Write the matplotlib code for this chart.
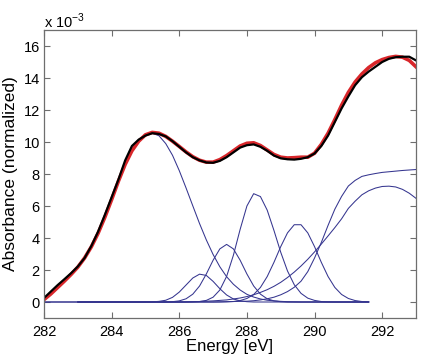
import matplotlib
matplotlib.use("Agg")
import matplotlib.pyplot as plt
import numpy as np

# -----------------------------
# 1. Data (absorbance in units of 1e-3)
# -----------------------------
energy = [282.0, 282.2, 282.4, 282.6, 282.8, 283.0, 283.2, 283.4, 283.6, 283.8,
          284.0, 284.2, 284.4, 284.6, 284.8, 285.0, 285.2, 285.4, 285.6, 285.8,
          286.0, 286.2, 286.4, 286.6, 286.8, 287.0, 287.2, 287.4, 287.6, 287.8,
          288.0, 288.2, 288.4, 288.6, 288.8, 289.0, 289.2, 289.4, 289.6, 289.8,
          290.0, 290.2, 290.4, 290.6, 290.8, 291.0, 291.2, 291.4, 291.6, 291.8,
          292.0, 292.2, 292.4, 292.6, 292.8, 293.0]

measured = [0.25, 0.65, 1.05, 1.42, 1.80, 2.22, 2.75, 3.50, 4.40, 5.45,
            6.55, 7.65, 8.85, 9.75, 10.15, 10.40, 10.55, 10.50, 10.35, 10.05,
            9.70, 9.35, 9.05, 8.85, 8.72, 8.70, 8.82, 9.05, 9.35, 9.65,
            9.80, 9.85, 9.70, 9.45, 9.15, 8.98, 8.92, 8.90, 8.95, 9.05,
            9.28, 9.75, 10.40, 11.25, 12.10, 12.85, 13.55, 14.05, 14.40, 14.70,
            15.00, 15.20, 15.30, 15.33, 15.33, 15.10]

fit = [0.15, 0.50, 0.90, 1.30, 1.72, 2.18, 2.75, 3.45, 4.30, 5.30,
       6.40, 7.55, 8.60, 9.45, 10.05, 10.45, 10.60, 10.55, 10.35, 10.05,
       9.72, 9.38, 9.08, 8.86, 8.74, 8.74, 8.90, 9.15, 9.45, 9.75,
       9.92, 9.95, 9.78, 9.50, 9.22, 9.05, 9.00, 9.02, 9.05, 9.05,
       9.30, 9.85, 10.55, 11.40, 12.30, 13.10, 13.75, 14.25, 14.65, 14.95,
       15.15, 15.28, 15.35, 15.30, 15.10, 14.70]

# peaks are drawn over 283.0 - 291.6 eV
peak_energy = energy[5:49]

peak_285 = [2.15, 2.72, 3.42, 4.27, 5.27, 6.37, 7.52, 8.57, 9.42, 10.02,
            10.42, 10.55, 10.39, 9.90, 9.17, 8.21, 7.13, 6.01, 4.90, 3.88,
            2.97, 2.20, 1.58, 1.11, 0.75, 0.48, 0.31, 0.19, 0.11, 0.07,
            0.04, 0.02, 0.01, 0, 0, 0, 0, 0, 0, 0,
            0, 0, 0, 0]

peak_2867 = [0, 0, 0, 0, 0, 0, 0, 0, 0, 0,
             0, 0.01, 0.04, 0.11, 0.29, 0.62, 1.06, 1.50, 1.74, 1.66,
             1.29, 0.83, 0.44, 0.19, 0.07, 0.02, 0, 0, 0, 0,
             0, 0, 0, 0, 0, 0, 0, 0, 0, 0,
             0, 0, 0, 0]

peak_2874 = [0, 0, 0, 0, 0, 0, 0, 0, 0, 0,
             0, 0, 0, 0, 0.02, 0.07, 0.20, 0.49, 1.00, 1.75,
             2.61, 3.32, 3.60, 3.32, 2.61, 1.75, 1.00, 0.49, 0.20, 0.07,
             0.02, 0, 0, 0, 0, 0, 0, 0, 0, 0,
             0, 0, 0, 0]

peak_2883 = [0, 0, 0, 0, 0, 0, 0, 0, 0, 0,
             0, 0, 0, 0, 0, 0, 0, 0.01, 0.03, 0.10,
             0.30, 0.75, 1.60, 2.92, 4.54, 6.00, 6.77, 6.59, 5.74, 4.47,
             3.11, 1.94, 1.08, 0.54, 0.24, 0.10, 0.03, 0.01, 0, 0,
             0, 0, 0, 0]

peak_2895 = [0, 0, 0, 0, 0, 0, 0, 0, 0, 0,
             0, 0, 0, 0, 0, 0, 0, 0, 0, 0,
             0, 0, 0.01, 0.03, 0.09, 0.22, 0.47, 0.91, 1.59, 2.48,
             3.46, 4.32, 4.83, 4.83, 4.32, 3.46, 2.48, 1.59, 0.91, 0.47,
             0.22, 0.09, 0.03, 0.01]

# step edge and broad sigma* peak span the whole range
step_edge = [0, 0, 0, 0, 0, 0, 0, 0, 0, 0,
             0, 0, 0, 0, 0, 0, 0, 0, 0, 0,
             0, 0, 0, 0, 0, 0, 0.01, 0.02, 0.03, 0.04,
             0.05, 0.08, 0.13, 0.20, 0.30, 0.45, 0.65, 0.92, 1.30, 1.90,
             2.75, 3.72, 4.79, 5.80, 6.60, 7.25, 7.60, 7.85, 7.95, 8.03,
             8.10, 8.14, 8.18, 8.22, 8.25, 8.28]

peak_2922 = [0, 0, 0, 0, 0, 0, 0, 0, 0, 0,
             0, 0, 0, 0, 0, 0, 0, 0, 0, 0,
             0, 0.01, 0.02, 0.03, 0.05, 0.07, 0.10, 0.13, 0.19, 0.25,
             0.34, 0.45, 0.60, 0.77, 0.98, 1.23, 1.53, 1.87, 2.25, 2.67,
             3.13, 3.62, 4.13, 4.65, 5.20, 5.85, 6.30, 6.70, 6.95, 7.12,
             7.22, 7.24, 7.19, 7.04, 6.80, 6.48]

scale = 1e-3

# -----------------------------
# 2. Plot
# -----------------------------
plt.rcParams["font.family"] = ["Liberation Sans", "DejaVu Sans"]
plt.rcParams["mathtext.fontset"] = "custom"
plt.rcParams["mathtext.rm"] = "Liberation Sans"

fig = plt.figure(figsize=(4.26, 3.62), dpi=100)
ax = fig.add_axes([44 / 426, 44 / 362, 372 / 426, 288 / 362])

comp_color = "#35358f"
for comp in [peak_285, peak_2867, peak_2874, peak_2883, peak_2895]:
    ax.plot(peak_energy, np.array(comp) * scale, color=comp_color, lw=0.75)
ax.plot(energy, np.array(step_edge) * scale, color=comp_color, lw=0.75)
ax.plot(energy, np.array(peak_2922) * scale, color=comp_color, lw=0.75)

ax.plot(energy, np.array(fit) * scale, color="#d8262a", lw=2.6)
ax.plot(energy, np.array(measured) * scale, color="black", lw=1.6)

ax.set_xlim(282, 293)
ax.set_ylim(-1e-3, 17e-3)
ax.set_xticks([282, 284, 286, 288, 290, 292])
ax.set_yticks(np.array([0, 2, 4, 6, 8, 10, 12, 14, 16]) * scale)
ax.set_yticklabels(["0", "2", "4", "6", "8", "10", "12", "14", "16"])

ax.tick_params(direction="in", top=True, right=True, length=4,
               labelsize=10.5, color="#6e6e6e")
ax.tick_params(axis="x", pad=5)
ax.tick_params(axis="y", pad=3)
for sp in ax.spines.values():
    sp.set_color("#6e6e6e")
    sp.set_linewidth(0.9)

ax.set_xlabel("Energy [eV]", fontsize=12, labelpad=0)
ax.set_ylabel("Absorbance (normalized)", fontsize=12.5, labelpad=4)
fig.text(44 / 426, 1 - 21 / 362, "x 10$^{-3}$", fontsize=10.5, va="center")

fig.savefig("out.png", dpi=100)
